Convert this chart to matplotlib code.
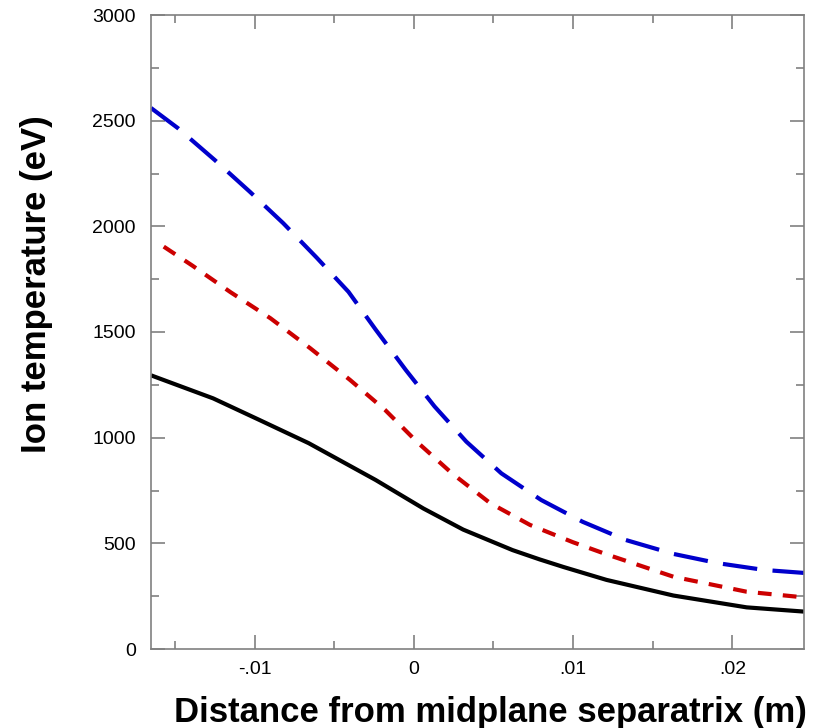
import numpy as np
import matplotlib.pyplot as plt
from matplotlib.ticker import MultipleLocator, FixedLocator, FixedFormatter

plt.rcParams['font.family'] = ['Liberation Sans', 'DejaVu Sans']

# curves (distance in m, ion temperature in eV)
x_black = [-0.0165, -0.0126, -0.0097, -0.0066, -0.0024, 0.0006, 0.0031,
           0.0062, 0.0079, 0.0094, 0.0121, 0.0163, 0.0209, 0.0245]
t_black = [1295, 1186, 1084, 974, 800, 665, 565,
           468, 424, 388, 327, 253, 197, 177]

x_red = [-0.0157, -0.0139, -0.0115, -0.0090, -0.0065, -0.0040, -0.0018, 0.0002,
         0.0024, 0.0048, 0.0073, 0.0100, 0.0121, 0.0163, 0.0209, 0.0244]
t_red = [1904, 1814, 1688, 1565, 1423, 1273, 1131, 980,
         831, 690, 587, 505, 448, 342, 271, 245]

x_blue = [-0.0165, -0.0148, -0.0125, -0.0103, -0.0082, -0.0061, -0.0041, -0.0024,
          -0.0005, 0.0013, 0.0033, 0.0055, 0.0080, 0.0106, 0.0133, 0.0163,
          0.0191, 0.0220, 0.0245]
t_blue = [2560, 2464, 2314, 2164, 2015, 1852, 1690, 1512,
          1320, 1148, 981, 831, 705, 602, 516, 450,
          406, 374, 360]

xticks = [-0.01, 0.0, 0.01, 0.02]
xtick_labels = ['-.01', '0', '.01', '.02']

fig = plt.figure(figsize=(8.22, 7.28), dpi=100)
ax = fig.add_axes([151/822, 79/728, 653/822, 634/728])

ax.plot(x_black, t_black, color='black', lw=3.0, solid_capstyle='butt')
ax.plot(x_red, t_red, color='#cc0000', lw=3.0, dashes=(3.3, 2.7))
ax.plot(x_blue, t_blue, color='#0000cc', lw=3.0, dashes=(8.3, 3.7))

ax.set_xlim(-0.0165, 0.0245)
ax.set_ylim(0, 3000)

ax.xaxis.set_major_locator(FixedLocator(xticks))
ax.xaxis.set_major_formatter(FixedFormatter(xtick_labels))
ax.xaxis.set_minor_locator(MultipleLocator(0.005))
ax.yaxis.set_major_locator(MultipleLocator(500))
ax.yaxis.set_minor_locator(MultipleLocator(250))

for s in ax.spines.values():
    s.set_color('#808080')
    s.set_linewidth(1.2)
ax.tick_params(which='both', direction='in', top=True, right=True,
               color='#808080', labelsize=14)
ax.tick_params(which='major', length=10, width=1.2)
ax.tick_params(which='minor', length=6, width=1.2)
ax.tick_params(axis='x', pad=9)
ax.tick_params(axis='y', pad=11)

ax.set_xlabel('Distance from midplane separatrix (m)', fontsize=25, fontweight='bold')
ax.set_ylabel('Ion temperature (eV)', fontsize=25, fontweight='bold')
ax.xaxis.set_label_coords(0.52, -0.074)
ax.yaxis.set_label_coords(-0.15, 0.576)

fig.savefig('out.png', dpi=100)
